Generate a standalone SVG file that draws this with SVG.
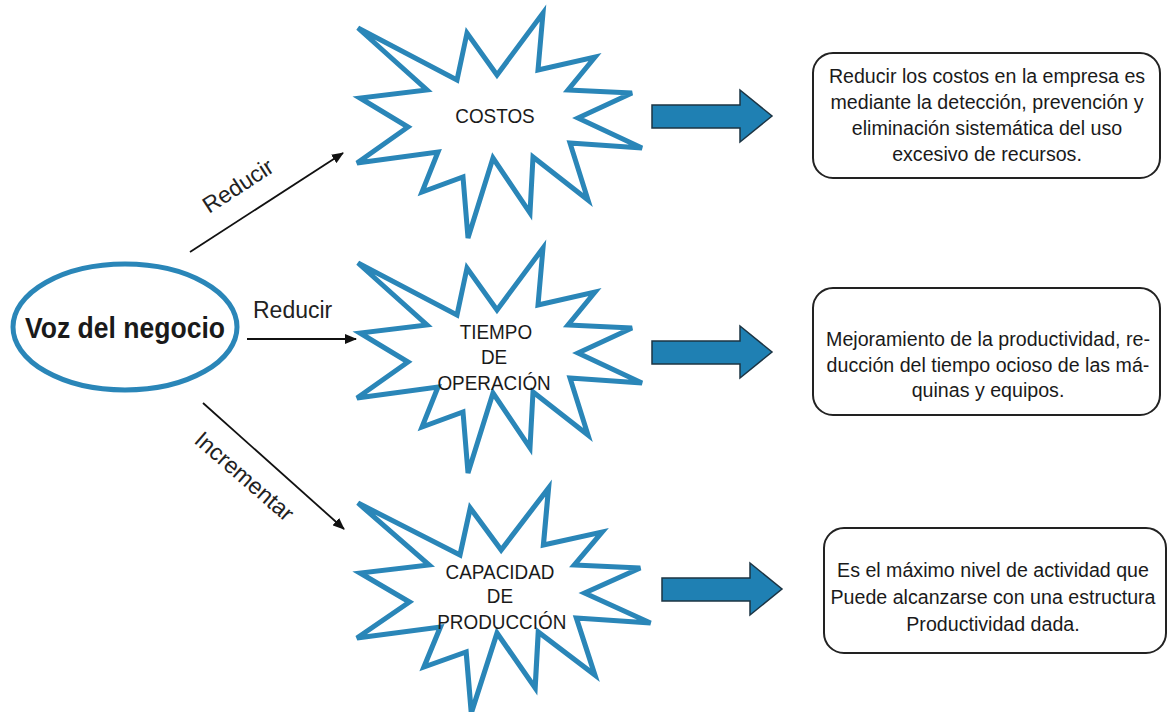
<svg xmlns="http://www.w3.org/2000/svg" xmlns:xlink="http://www.w3.org/1999/xlink" width="1172" height="712" viewBox="0 0 1172 712">
  <style>
    .star { fill: #ffffff; stroke: #2a86b8; stroke-width: 5; stroke-linejoin: miter; }
    .oval { fill: #ffffff; stroke: #2a86b8; stroke-width: 5; }
    .box { fill: #ffffff; stroke: #222222; stroke-width: 2; }
    .block { fill: #1f80b3; stroke: #1c3443; stroke-width: 1.5; stroke-linejoin: miter; }
    .conn { stroke: #111111; stroke-width: 1.8; fill: none; }
    .t { font-family: "Liberation Sans", Arial, sans-serif; fill: #1a1a1a; }
    .star-t { font-size: 21px; text-anchor: middle; }
    .box-t { font-size: 21px; text-anchor: middle; }
    .lbl { font-size: 23px; fill: #222222; }
  </style>
  <defs>
    <marker id="ah" markerWidth="12" markerHeight="10" refX="11" refY="5" orient="auto" markerUnits="userSpaceOnUse">
      <path d="M0,0 L12,5 L0,10 Z" fill="#111111"/>
    </marker>
    <!-- explosion outline shared by the three concept nodes -->
    <polygon id="burst" class="star" points="358,28 457,80 467,33 497,75 543,13 538,70 595,57 568,90 632,93 578,118 642,148 570,143 588,200 533,157 530,213 493,158 468,238 463,177 422,192 438,152 357,163 408,127 360,98 427,90"/>
    <!-- thick block arrow pointing right -->
    <polygon id="block" class="block" points="0,15 88,15 88,0 120,26 88,52 88,38 0,38"/>
  </defs>

  <rect width="1172" height="712" fill="#ffffff"/>

  <g id="connectors">
    <line class="conn" x1="190" y1="252" x2="343" y2="153" marker-end="url(#ah)"/>
    <text class="t lbl" transform="translate(209,214) rotate(-33)">Reducir</text>
    <line class="conn" x1="247" y1="339" x2="356" y2="339" marker-end="url(#ah)"/>
    <text class="t lbl" x="253" y="318">Reducir</text>
    <line class="conn" x1="203" y1="403" x2="344" y2="529" marker-end="url(#ah)"/>
    <text class="t lbl" transform="translate(193,442) rotate(41)">Incrementar</text>

    <use xlink:href="#block" transform="translate(652,90)"/>
    <use xlink:href="#block" transform="translate(652,326)"/>
    <use xlink:href="#block" transform="translate(662,563)"/>
  </g>

  <g id="voz-del-negocio">
    <ellipse class="oval" cx="125" cy="327" rx="112" ry="63"/>
    <g transform="translate(125,0) scale(0.885,1) translate(-125,0)">
      <text class="t" x="125" y="338" font-size="30" font-weight="bold" text-anchor="middle" fill="#111111">Voz del negocio</text>
    </g>
  </g>

  <g id="costos">
    <use xlink:href="#burst"/>
    <g transform="translate(495,0) scale(0.9,1) translate(-495,0)">
      <text class="t star-t" x="495" y="123">COSTOS</text>
    </g>
  </g>

  <g id="tiempo-operacion">
    <use xlink:href="#burst" transform="translate(0,235)"/>
    <g transform="translate(495,0) scale(0.9,1) translate(-495,0)">
      <text class="t star-t" x="496" y="339">TIEMPO</text>
      <text class="t star-t" x="494" y="364">DE</text>
      <text class="t star-t" x="494" y="390">OPERACIÓN</text>
    </g>
  </g>

  <g id="capacidad-produccion">
    <use xlink:href="#burst" transform="translate(358,475) scale(1.03,1) translate(-358,0)"/>
    <g transform="translate(500,0) scale(0.9,1) translate(-500,0)">
      <text class="t star-t" x="500" y="579">CAPACIDAD</text>
      <text class="t star-t" x="500" y="603">DE</text>
      <text class="t star-t" x="502" y="629">PRODUCCIÓN</text>
    </g>
  </g>

  <g id="desc-costos">
    <rect class="box" x="813" y="53" width="347" height="125" rx="20" ry="20"/>
    <g transform="translate(987,0) scale(0.935,1) translate(-987,0)">
      <text class="t box-t" x="987" y="83">Reducir los costos en la empresa es</text>
      <text class="t box-t" x="987" y="109">mediante la detección, prevención y</text>
      <text class="t box-t" x="987" y="135">eliminación sistemática del uso</text>
      <text class="t box-t" x="987" y="161">excesivo de recursos.</text>
    </g>
  </g>

  <g id="desc-tiempo">
    <rect class="box" x="813" y="288" width="347" height="127" rx="20" ry="20"/>
    <g transform="translate(988,0) scale(0.935,1) translate(-988,0)">
      <text class="t box-t" x="988" y="346">Mejoramiento de la productividad, re-</text>
      <text class="t box-t" x="988" y="372">ducción del tiempo ocioso de las má-</text>
      <text class="t box-t" x="988" y="397">quinas y equipos.</text>
    </g>
  </g>

  <g id="desc-capacidad">
    <rect class="box" x="824" y="528" width="342" height="125" rx="20" ry="20"/>
    <g transform="translate(993,0) scale(0.935,1) translate(-993,0)">
      <text class="t box-t" x="993" y="577">Es el máximo nivel de actividad que</text>
      <text class="t box-t" x="993" y="604">Puede alcanzarse  con una estructura</text>
      <text class="t box-t" x="993" y="631">Productividad dada.</text>
    </g>
  </g>
</svg>
